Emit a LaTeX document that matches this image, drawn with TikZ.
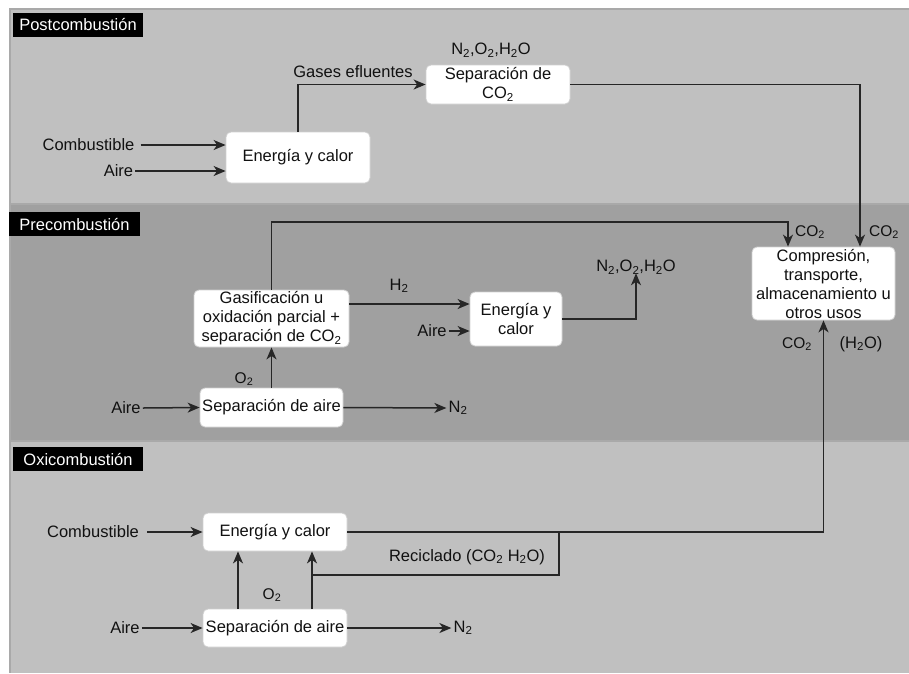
\documentclass[tikz,border=0pt]{standalone}
\usepackage{fontspec}
\setmainfont{Liberation Sans}
\usetikzlibrary{arrows.meta}
\definecolor{panelL}{HTML}{C0C0C0}
\definecolor{panelD}{HTML}{A0A0A0}
\definecolor{panelB}{HTML}{A9A9A9}
\definecolor{txt}{HTML}{111111}
\definecolor{lncol}{HTML}{262626}
\definecolor{boxb}{HTML}{D0D0D0}
\newcommand{\dos}{\textsubscript{2}}
\begin{document}
\begin{tikzpicture}[x=1pt,y=-1pt,
  every node/.style={font=\fontsize{16.5}{19}\selectfont, text=txt},
  procbox/.style={draw=boxb, line width=0.8pt, fill=white, rounded corners=5pt, align=center, inner sep=0pt},
  lbl/.style={inner sep=2pt},
  sublbl/.style={font=\fontsize{15.5}{18}\selectfont, inner sep=1pt},
  sect/.style={fill=black, text=white, inner sep=0pt, minimum height=24pt},
  arr/.style={draw=lncol, line width=1.5pt, -{Stealth[length=12pt,width=10pt,inset=3.5pt]}},
  flow/.style={draw=lncol, line width=1.5pt}
]
\useasboundingbox (0,0) rectangle (909,673);
\fill[white] (0,0) rectangle (909,673);
% panels
\fill[panelL] (9,8) rectangle (909,204);
\fill[panelD] (9,204) rectangle (909,440);
\fill[panelL] (9,440) rectangle (909,673);
\draw[panelB, line width=1.5pt] (9,8.75) -- (909,8.75);
\draw[panelB, line width=2pt] (9,204) -- (909,204);
\draw[panelB, line width=1.5pt] (9,441) -- (909,441);
\draw[panelB, line width=1.5pt] (9.75,8) -- (9.75,673);

% section titles
\node[sect, minimum width=130pt] (post) at (78,25) {Postcombustión};
\node[sect, minimum width=131pt] (pre) at (74.5,224) {Precombustión};
\node[sect, minimum width=130pt] (oxi) at (78,459) {Oxicombustión};

% process boxes
\node[procbox, minimum width=144pt, minimum height=51pt] (eA) at (298,157.5) {Energía y calor};
\node[procbox, minimum width=144pt, minimum height=39pt] (sep) at (498,84.5) {Separación de\\CO\dos};
\node[procbox, minimum width=143pt, minimum height=73pt] (comp) at (823.5,283.5) {Compresión,\\transporte,\\almacenamiento u\\otros usos};
\node[procbox, minimum width=155pt, minimum height=57pt] (gas) at (271.5,318.5) {Gasificación u\\oxidación parcial +\\separación de CO\dos};
\node[procbox, minimum width=92pt, minimum height=54pt] (eB) at (516,319) {Energía y\\calor};
\node[procbox, minimum width=143pt, minimum height=39pt] (sairB) at (271.5,407.5) {Separación de aire};
\node[procbox, minimum width=144pt, minimum height=38pt] (eC) at (275,532) {Energía y calor};
\node[procbox, minimum width=144pt, minimum height=38pt] (sairC) at (275,628) {Separación de aire};

% --- Postcombustion
\node[lbl] (comb1) at (88.5,145) {Combustible};
\draw[arr] ([xshift=4pt]comb1.east) -- (eA.west |- comb1);
\node[lbl] (aire1) at (118.5,171) {Aire};
\draw[arr] (aire1.east) -- (eA.west |- aire1);
\node[lbl] (gases) at (353,72) {Gases efluentes};
\draw[arr] (eA.north) |- (sep.west);
\node[lbl] (out1) at (491,50) {N\dos,O\dos,H\dos O};
\draw[arr] (sep.east) -| ([xshift=36.5pt]comp.north);
\node[sublbl] (co2b) at (884,232) {CO\dos};

% --- Precombustion
\coordinate (c1) at (788,222);
\draw[arr] (gas.north) |- (c1) -- (c1 |- comp.north);
\node[sublbl] (co2a) at (810,232) {CO\dos};
\coordinate (h2y) at (0,304);
\node[lbl] (h2) at (399,286) {H\dos};
\draw[arr] (gas.east |- h2y) -- (eB.west |- h2y);
\node[lbl] (aire2) at (432,331) {Aire};
\draw[arr] (aire2.east) -- (eB.west |- aire2);
\node[lbl] (out2) at (636,267) {N\dos,O\dos,H\dos O};
\draw[arr] (eB.east) -| ([yshift=3pt]out2.south);
\node[sublbl] (o2b) at (244,379) {O\dos};
\draw[arr] (sairB.north) -- (gas.south);
\node[lbl] (aire3) at (126,408) {Aire};
\draw[arr] (aire3.east) -- (sairB.west);
\node[lbl] (n2b) at (458,408) {N\dos};
\draw[arr] (sairB.east) -- (n2b.west);
\node[sublbl] (co2c) at (797,344) {CO\dos};
\node[lbl] (h2oc) at (861,344) {(H\dos O)};

% --- Oxicombustion
\node[lbl] (comb3) at (93,532) {Combustible};
\draw[arr] ([xshift=6pt]comb3.east) -- (eC.west);
\node[lbl] (aire4) at (125,628) {Aire};
\draw[arr] (aire4.east) -- (sairC.west);
\node[lbl] (n2c) at (463,628) {N\dos};
\draw[arr] (sairC.east) -- (n2c.west);
\node[sublbl] (o2c) at (272,595) {O\dos};
\draw[arr] ([xshift=-37pt]sairC.north) -- ([xshift=-37pt]eC.south);
\draw[arr] ([xshift=37pt]sairC.north) -- ([xshift=37pt]eC.south);
\coordinate (r1) at (559,532);
\coordinate (r2) at (559,575);
\coordinate (r3) at (312,575);
\draw[flow] (r1) -- (r2) -- (r3);
\draw[arr] (eC.east) -| (comp.south);
\node[lbl] (recic) at (467,557) {Reciclado (CO\dos{} H\dos O)};
\end{tikzpicture}
\end{document}
